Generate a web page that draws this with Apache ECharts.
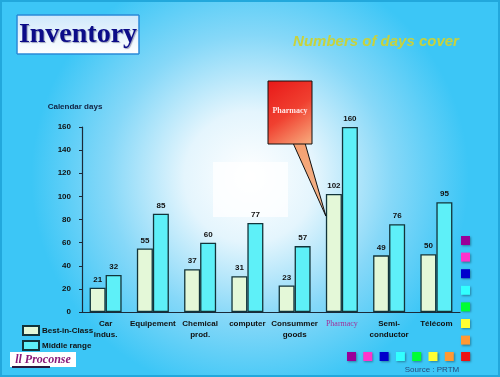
<!DOCTYPE html>
<html>
<head>
<meta charset="utf-8">
<script src="https://cdn.jsdelivr.net/npm/echarts@6/dist/echarts.min.js"></script>
<style>
html, body { margin: 0; padding: 0; }
#main { width: 500px; height: 377px; }
</style>
</head>
<body>
<div id="main"></div>
<script>
var categories = ['Car\nindus.', 'Equipement', 'Chemical\nprod.', 'computer', 'Consummer\ngoods', 'Pharmacy', 'Semi-\nconductor', 'Télécom'];
var bestInClass = [21, 55, 37, 31, 23, 102, 49, 50];
var middleRange = [32, 85, 60, 77, 57, 160, 76, 95];
var yTicks = [0, 20, 40, 60, 80, 100, 120, 140, 160];
var swatchColors = ['#990099', '#ff33cc', '#0000cc', '#33ffff', '#00ff33', '#ffff33', '#ff9933', '#ee1111'];

var myChart = echarts.init(document.getElementById('main'));

var labelStyle = {
	show: true,
	position: 'top',
	distance: 4,
	fontSize: 8,
	fontWeight: 'bold',
	fontFamily: 'Liberation Sans',
	color: '#111'
};

// decorative colour squares (right column + bottom row)
var squares = [];
for (var i = 0; i < 7; i++) {
	squares.push({
		type: 'rect',
		shape: { x: 461, y: 236 + i * 16.6, width: 9, height: 9 },
		style: { fill: swatchColors[i], shadowBlur: 2, shadowColor: 'rgba(0,0,0,0.35)', shadowOffsetX: 1, shadowOffsetY: 1 },
		z: 10
	});
}
for (var j = 0; j < 8; j++) {
	squares.push({
		type: 'rect',
		shape: { x: 347 + j * 16.3, y: 352, width: 9, height: 9 },
		style: { fill: swatchColors[j], shadowBlur: 2, shadowColor: 'rgba(0,0,0,0.35)', shadowOffsetX: 1, shadowOffsetY: 1 },
		z: 10
	});
}

var option = {
	backgroundColor: {
		type: 'radial', x: 0.5, y: 0.47, r: 0.58,
		colorStops: [
			{ offset: 0, color: '#ffffff' },
			{ offset: 0.3, color: '#e4f5fd' },
			{ offset: 0.65, color: '#86d8f8' },
			{ offset: 1, color: '#3cc6f6' }
		]
	},
	animation: false,
	textStyle: { fontFamily: 'Liberation Sans' },
	legend: {
		orient: 'vertical',
		left: 17,
		top: 320,
		icon: 'rect',
		itemWidth: 16,
		itemHeight: 9,
		itemGap: 4,
		textStyle: { fontSize: 8, fontWeight: 'bold', color: '#111', padding: [0, 0, 0, -2] },
		data: ['Best-in-Class', 'Middle range']
	},
	grid: { left: 82, right: 40, top: 127, bottom: 65 },
	xAxis: {
		type: 'category',
		data: categories,
		axisLine: { lineStyle: { color: '#1a2a3a', width: 1.2 } },
		axisTick: { length: 3, lineStyle: { color: '#1a2a3a' } },
		axisLabel: {
			interval: 0,
			margin: 6,
			fontSize: 8,
			fontWeight: 'bold',
			lineHeight: 11,
			color: '#111',
			formatter: function (v) {
				return v === 'Pharmacy' ? '{ph|' + v + '}' : v;
			},
			rich: {
				ph: { fontFamily: 'Liberation Serif', fontSize: 8, color: '#a0309a', fontWeight: 'normal' }
			}
		}
	},
	yAxis: {
		type: 'value',
		min: 0,
		max: 160,
		interval: 20,
		splitLine: { show: false },
		axisLine: { show: true, lineStyle: { color: '#1a2a3a', width: 1.2 } },
		axisTick: { show: true, length: 3, lineStyle: { color: '#1a2a3a' } },
		axisLabel: {
			margin: 11,
			fontSize: 8,
			fontWeight: 'bold',
			color: '#111',
			formatter: function (v) { return yTicks.indexOf(v) >= 0 ? String(v) : ''; }
		}
	},
	series: [
		{
			name: 'Best-in-Class',
			type: 'bar',
			barWidth: 16,
			barGap: '0%',
			itemStyle: { color: '#e4f8d8', borderColor: '#12343a', borderWidth: 1.3 },
			label: labelStyle,
			data: bestInClass
		},
		{
			name: 'Middle range',
			type: 'bar',
			barWidth: 16,
			itemStyle: { color: '#5ef0f8', borderColor: '#12343a', borderWidth: 1.3 },
			label: labelStyle,
			data: middleRange
		}
	],
	graphic: [
		// frame
		{
			type: 'rect', shape: { x: 1, y: 1, width: 498, height: 375 },
			style: { fill: 'none', stroke: '#22a8dc', lineWidth: 2 }, z: 1
		},
		// faint white panel in the glow
		{
			type: 'rect', shape: { x: 213, y: 162, width: 75, height: 55 },
			style: { fill: 'rgba(255,255,255,0.75)' }, z: -1
		},
		// title box
		{
			type: 'rect', shape: { x: 17, y: 15, width: 122, height: 39 },
			style: {
				fill: new echarts.graphic.LinearGradient(0, 0, 0, 1, [
					{ offset: 0, color: '#cfe8fb' },
					{ offset: 1, color: '#ffffff' }
				]),
				stroke: '#2a8ad8', lineWidth: 1
			}, z: 5
		},
		{
			type: 'text', x: 78, y: 35, z: 6,
			style: {
				text: 'Inventory', fontFamily: 'Liberation Serif', fontSize: 28, fontWeight: 'bold',
				fill: '#0c0c88', align: 'center', verticalAlign: 'middle',
				textShadowColor: 'rgba(0,0,60,0.35)', textShadowOffsetX: 1, textShadowOffsetY: 1, textShadowBlur: 1
			}
		},
		{
			type: 'text', x: 376, y: 42, z: 6,
			style: {
				text: 'Numbers of days cover', fontFamily: 'Liberation Sans', fontSize: 15,
				fontWeight: 'bold', fontStyle: 'italic', fill: '#c8d23c',
				align: 'center', verticalAlign: 'middle'
			}
		},
		{
			type: 'text', x: 75, y: 107, z: 6,
			style: {
				text: 'Calendar days', fontFamily: 'Liberation Sans', fontSize: 8, fontWeight: 'bold',
				fill: '#102040', align: 'center', verticalAlign: 'middle'
			}
		},
		// logo
		{
			type: 'rect', shape: { x: 10, y: 352, width: 66, height: 15 },
			style: { fill: '#ffffff' }, z: 5
		},
		{
			type: 'rect', shape: { x: 12, y: 366, width: 38, height: 2 },
			style: { fill: '#2a1a40' }, z: 5
		},
		{
			type: 'text', x: 43, y: 359.5, z: 6,
			style: {
				text: 'll Proconse', fontFamily: 'Liberation Serif', fontSize: 12, fontStyle: 'italic',
				fontWeight: 'bold', fill: '#8a1a7a', align: 'center', verticalAlign: 'middle'
			}
		},
		{
			type: 'text', x: 432, y: 370, z: 6,
			style: {
				text: 'Source : PRTM', fontFamily: 'Liberation Sans', fontSize: 8,
				fill: '#2a4a7a', align: 'center', verticalAlign: 'middle'
			}
		}
	].concat(squares)
};

myChart.setOption(option);

// callout pointing at the Pharmacy best-in-class bar
var tip = myChart.convertToPixel({ seriesIndex: 0 }, [5, bestInClass[5]]);
var tipX = tip[0] - 16;
var tipY = tip[1] + 22;
myChart.setOption({
	graphic: option.graphic.concat([
		{
			type: 'polygon', z: 20,
			shape: { points: [[293, 143], [305, 143], [tipX, tipY]] },
			style: {
				fill: new echarts.graphic.LinearGradient(0, 0, 0, 1, [
					{ offset: 0, color: '#f6a070' },
					{ offset: 1, color: '#f0b890' }
				]),
				stroke: '#111', lineWidth: 1
			}
		},
		{
			type: 'rect', z: 21,
			shape: { x: 268, y: 81, width: 44, height: 63 },
			style: {
				fill: new echarts.graphic.LinearGradient(0, 0, 1, 1, [
					{ offset: 0, color: '#e81818' },
					{ offset: 0.5, color: '#f04030' },
					{ offset: 1, color: '#f8b080' }
				]),
				stroke: '#111', lineWidth: 1
			}
		},
		{
			type: 'text', x: 290, y: 111, z: 22,
			style: {
				text: 'Pharmacy', fontFamily: 'Liberation Serif', fontSize: 8, fontWeight: 'bold',
				fill: '#ffe8e8', align: 'center', verticalAlign: 'middle'
			}
		}
	])
});
</script>
</body>
</html>
